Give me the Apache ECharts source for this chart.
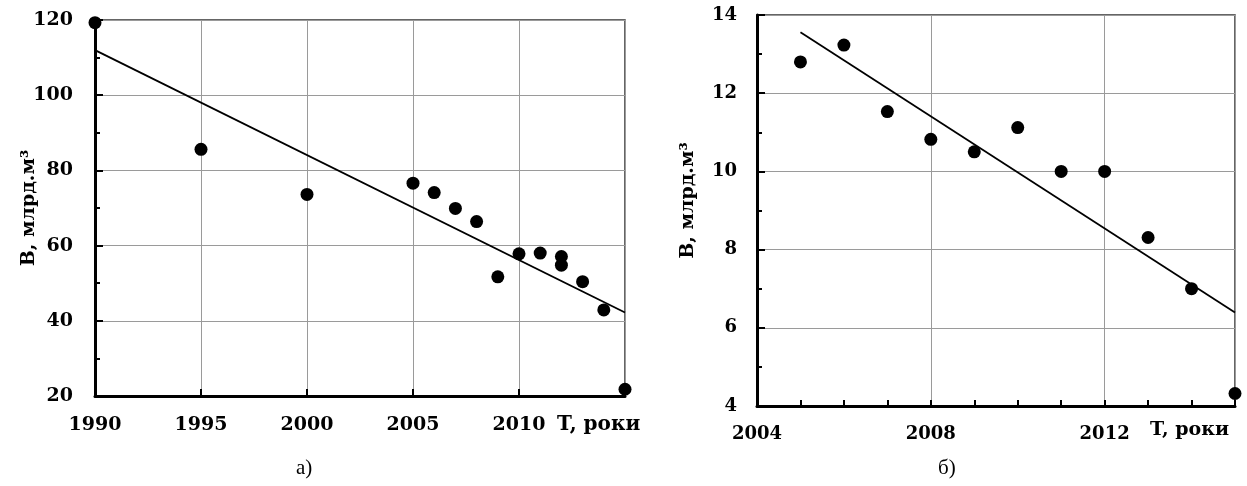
<!DOCTYPE html>
<html>
<head>
<meta charset="utf-8">
<script src="https://cdn.jsdelivr.net/npm/echarts@6/dist/echarts.min.js"></script>
<style>html,body{margin:0;padding:0;background:#fff}#c{width:1247px;height:486px}</style>
</head>
<body>
<div id="c"></div>
<script>
// Chart a) 1990-2015
const yearsA = [1990, 1995, 2000, 2005, 2006, 2007, 2008, 2009, 2010, 2011, 2012, 2012, 2013, 2014, 2015];
const valuesA = [119.3, 85.6, 73.6, 76.6, 74.1, 69.9, 66.4, 51.7, 57.8, 58.0, 57.1, 54.8, 50.4, 42.9, 21.8];
const trendYearsA = [1990, 2015];
const trendValuesA = [112.0, 42.2];
const xTicksA = [1990, 1995, 2000, 2005, 2010];
// Chart б) 2004-2015
const yearsB = [2005, 2006, 2007, 2008, 2009, 2010, 2011, 2012, 2013, 2014, 2015];
const valuesB = [12.8, 13.23, 11.53, 10.82, 10.5, 11.12, 10.0, 10.0, 8.31, 7.0, 4.32];
const trendYearsB = [2005, 2015];
const trendValuesB = [13.56, 6.39];
const xTicksB = [2004, 2008, 2012];

const yName = 'В, млрд.м³';
const xName = 'T, роки';

const zip = (a, b) => a.map((v, i) => [v, b[i]]);
const labelFont = {fontFamily: 'DejaVu Serif', fontWeight: 'bold', color: '#000'};
const gridLine = {show: true, lineStyle: {color: '#9a9a9a', width: 1}};

const chart = echarts.init(document.getElementById('c'));
chart.setOption({
  animation: false,
  backgroundColor: '#fff',
  grid: [
    {left: 95, top: 20, width: 530, bottom: 90, show: true, borderColor: '#333', borderWidth: 1.5},
    {left: 757, top: 15, width: 478, bottom: 80, show: true, borderColor: '#333', borderWidth: 1.5}
  ],
  xAxis: [
    {gridIndex: 0, type: 'value', min: 1990, max: 2015, interval: 5,
     axisLine: {show: true, onZero: false, lineStyle: {color: '#000', width: 3}},
     axisTick: {show: true, inside: true, length: 7, lineStyle: {color: '#000', width: 2}},
     axisLabel: Object.assign({fontSize: 19, margin: 20,
       formatter: v => xTicksA.includes(v) ? String(v) : ''}, labelFont),
     splitLine: gridLine},
    {gridIndex: 1, type: 'value', min: 2004, max: 2015, interval: 1,
     axisLine: {show: true, onZero: false, lineStyle: {color: '#000', width: 3}},
     axisTick: {show: true, inside: true, length: 6, lineStyle: {color: '#000', width: 2}},
     axisLabel: Object.assign({fontSize: 18, margin: 19,
       formatter: v => xTicksB.includes(v) ? String(v) : ''}, labelFont),
     splitLine: {show: false}},
    {gridIndex: 1, type: 'value', min: 2004, max: 2015, interval: 4,
     axisLine: {show: false}, axisTick: {show: false}, axisLabel: {show: false},
     splitLine: gridLine}
  ],
  yAxis: [
    {gridIndex: 0, type: 'value', min: 20, max: 120, interval: 20,
     name: yName, nameLocation: 'middle', nameGap: 56, nameMoveOverlap: false,
     nameTextStyle: Object.assign({fontSize: 19}, labelFont),
     axisLine: {show: true, onZero: false, lineStyle: {color: '#000', width: 3}},
     axisTick: {show: true, inside: true, length: 8, lineStyle: {color: '#000', width: 2}},
     minorTick: {show: true, splitNumber: 2, length: 5, lineStyle: {color: '#000', width: 2}},
     axisLabel: Object.assign({fontSize: 19, margin: 22}, labelFont),
     splitLine: gridLine},
    {gridIndex: 1, type: 'value', min: 4, max: 14, interval: 2,
     name: yName, nameLocation: 'middle', nameGap: 59, nameMoveOverlap: false,
     nameTextStyle: Object.assign({fontSize: 19, padding: [0, 0, 0, 20]}, labelFont),
     axisLine: {show: true, onZero: false, lineStyle: {color: '#000', width: 3}},
     axisTick: {show: true, inside: true, length: 8, lineStyle: {color: '#000', width: 2}},
     minorTick: {show: true, splitNumber: 2, length: 5, lineStyle: {color: '#000', width: 2}},
     axisLabel: Object.assign({fontSize: 18, margin: 20}, labelFont),
     splitLine: gridLine}
  ],
  series: [
    {type: 'line', xAxisIndex: 0, yAxisIndex: 0, data: zip(trendYearsA, trendValuesA),
     showSymbol: false, lineStyle: {color: '#000', width: 1.8}, z: 2},
    {type: 'scatter', xAxisIndex: 0, yAxisIndex: 0, data: zip(yearsA, valuesA),
     symbolSize: 13, itemStyle: {color: '#000', opacity: 1}, z: 3, clip: false},
    {type: 'line', xAxisIndex: 1, yAxisIndex: 1, data: zip(trendYearsB, trendValuesB),
     showSymbol: false, lineStyle: {color: '#000', width: 1.8}, z: 2},
    {type: 'scatter', xAxisIndex: 1, yAxisIndex: 1, data: zip(yearsB, valuesB),
     symbolSize: 13, itemStyle: {color: '#000', opacity: 1}, z: 3, clip: false}
  ],
  graphic: [
    {type: 'text', left: 557, top: 415, style: {text: xName, fontSize: 20, fill: '#000', fontFamily: 'DejaVu Serif', fontWeight: 'bold'}},
    {type: 'text', left: 1150, top: 421, style: {text: xName, fontSize: 19, fill: '#000', fontFamily: 'DejaVu Serif', fontWeight: 'bold'}},
    {type: 'text', left: 296, top: 458, style: {text: 'а)', fontSize: 21, fill: '#000', fontFamily: 'Liberation Serif'}},
    {type: 'text', left: 938, top: 458, style: {text: 'б)', fontSize: 21, fill: '#000', fontFamily: 'Liberation Serif'}}
  ]
});
</script>
</body>
</html>
